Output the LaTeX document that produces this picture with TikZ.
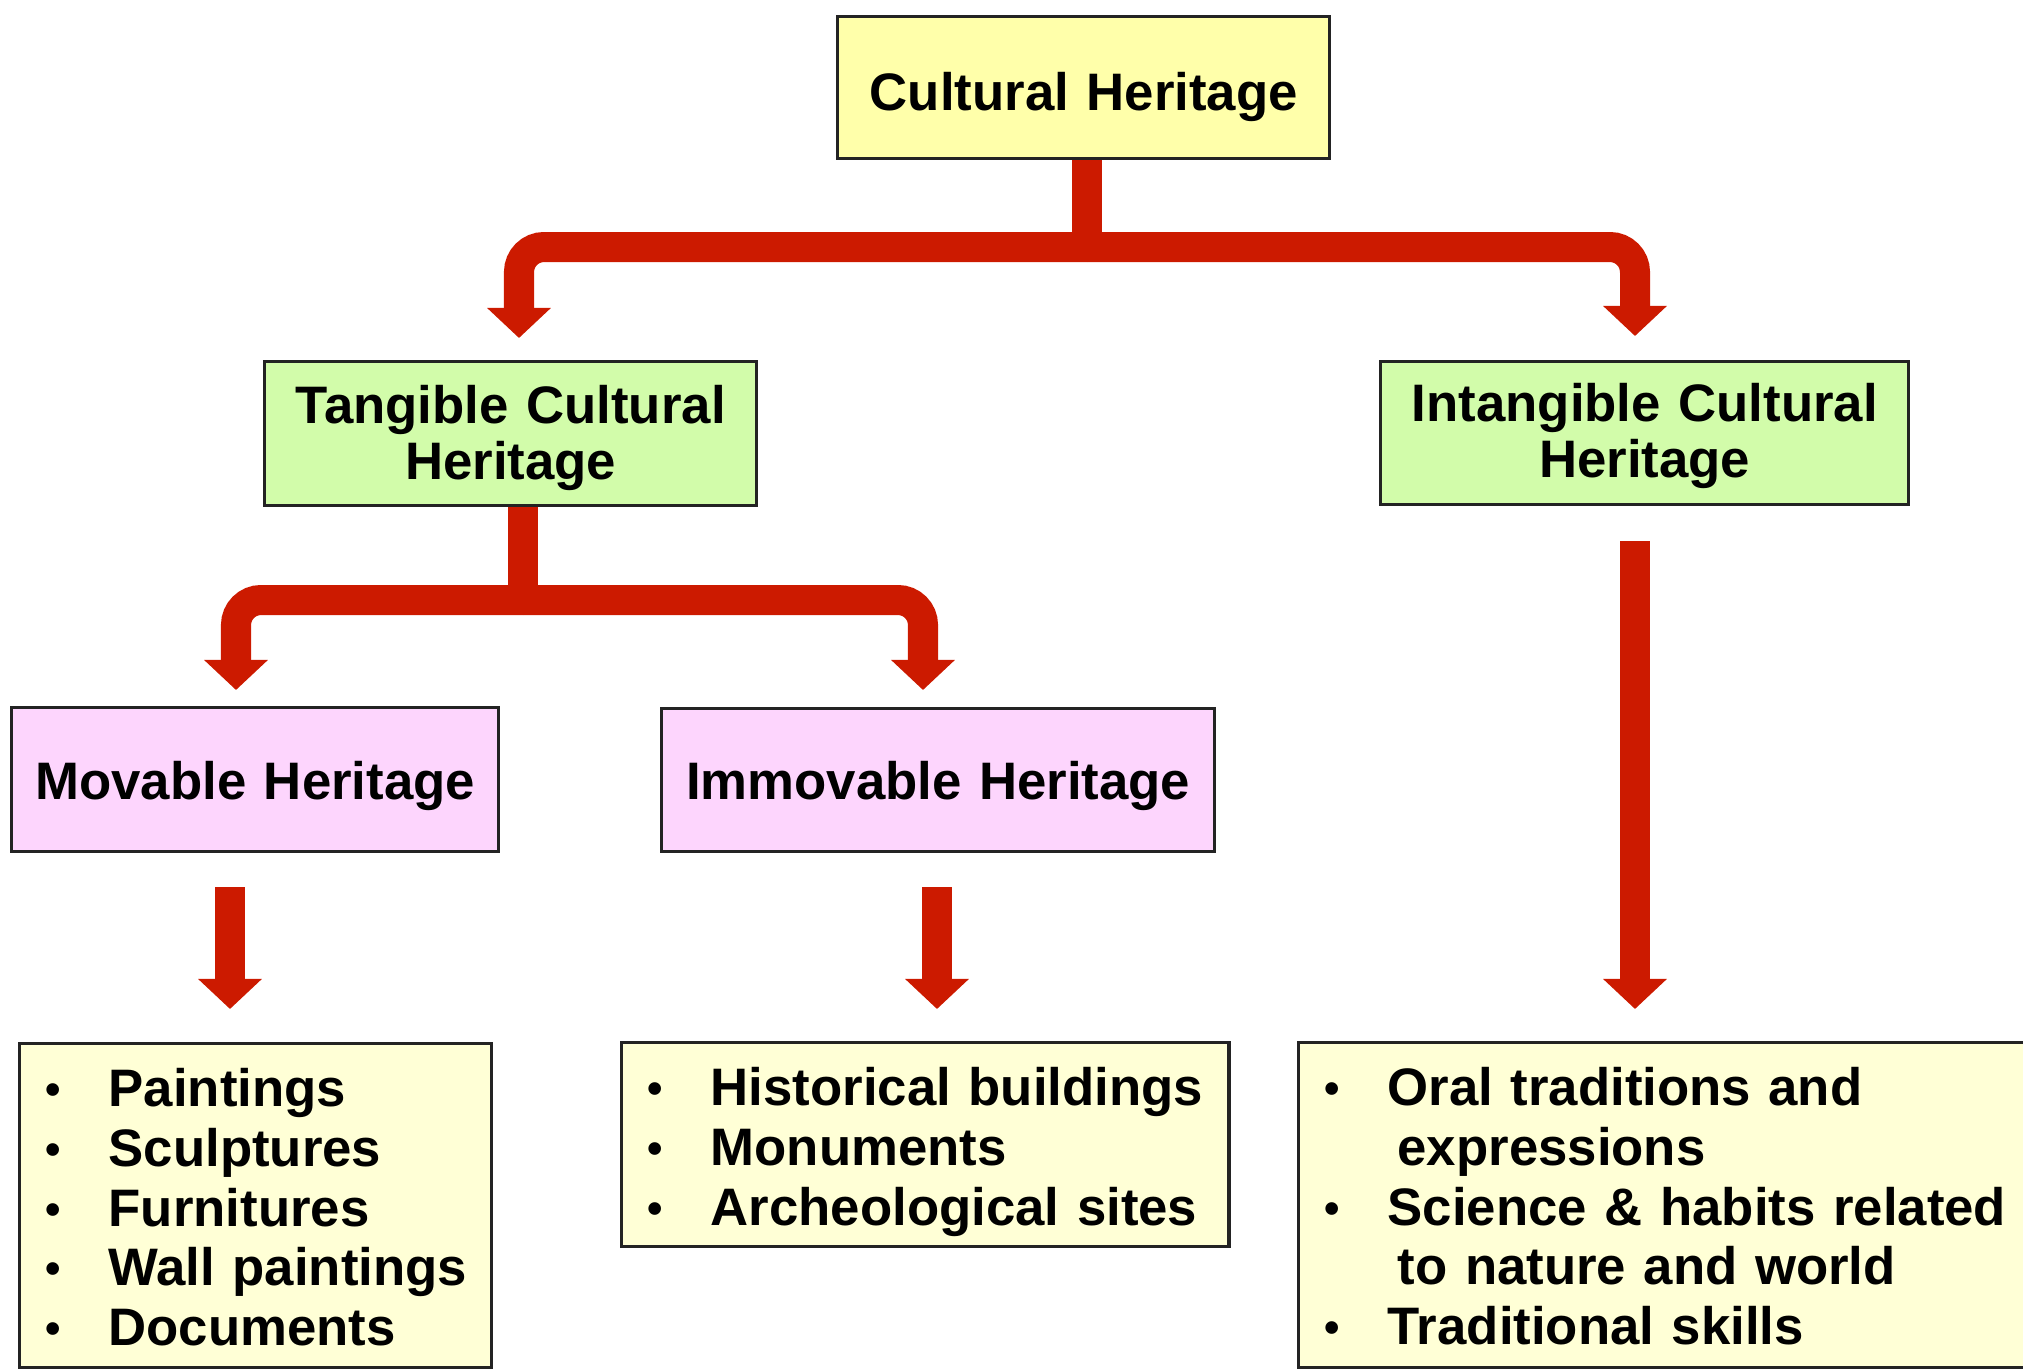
\documentclass[tikz,border=0pt]{standalone}
\usepackage{fontspec}
\setmainfont{Liberation Sans}
\usetikzlibrary{arrows.meta}

\definecolor{boxline}{RGB}{35,35,35}
\definecolor{chfill}{RGB}{255,255,170}
\definecolor{tanfill}{RGB}{210,252,170}
\definecolor{movfill}{RGB}{253,213,253}
\definecolor{listfill}{RGB}{255,255,214}
\definecolor{arrowred}{RGB}{204,26,0}

\tikzset{
  titlebox/.style = {draw=boxline, line width=0.9pt, anchor=north west,
    inner sep=0pt, align=center, font=\bfseries\fontsize{15pt}{16pt}\selectfont},
  itembox/.style = {titlebox, fill=listfill, align=left, inner xsep=2.3mm,
    text height=6.3mm, font=\bfseries\fontsize{15pt}{17pt}\selectfont},
  stem/.style = {draw=arrowred, line width=3mm},
  flow/.style = {stem, -{Triangle[width=6.2mm, length=3mm]}}
}
\newcommand{\itm}{\makebox[6.6mm][l]{\hspace*{0.3mm}\raisebox{0.6pt}{\fontsize{12.5pt}{12.5pt}\selectfont •}}}

\begin{document}
\begin{tikzpicture}[x=0.01cm, y=-0.01cm]
  \useasboundingbox (0,0) rectangle (2023,1369);
  \clip (0,0) rectangle (2023,1369);

  \node[titlebox, fill=chfill, text width=4.92cm, text height=9.4mm, text depth=4.8mm]
    (ch) at (836,15) {Cultural Heritage};

  \node[titlebox, fill=tanfill, text width=4.92cm, text height=6.2mm, text depth=8.2mm]
    (tch) at (263,360) {Tangible Cultural\\Heritage};
  \node[titlebox, fill=tanfill, text width=5.28cm, text height=6.0mm, text depth=8.3mm]
    (ich) at (1379,360) {Intangible Cultural\\Heritage};

  \node[titlebox, fill=movfill, text width=4.87cm, text height=9.2mm, text depth=5.2mm]
    (mh) at (10,706) {Movable Heritage};
  \node[titlebox, fill=movfill, text width=5.53cm, text height=9.1mm, text depth=5.2mm]
    (ih) at (660,707) {Immovable Heritage};

  \node[itembox, text width=4.26cm, text depth=26.1mm] (movl) at (18,1042)
    {\itm Paintings\\ \itm Sculptures\\ \itm Furnitures\\ \itm Wall paintings\\ \itm Documents};
  \node[itembox, text width=5.61cm, text depth=14.1mm] (imml) at (620,1041)
    {\itm Historical buildings\\ \itm Monuments\\ \itm Archeological sites};
  \node[itembox, text width=6.97cm, text depth=26.2mm] (intl) at (1297,1041)
    {\itm Oral traditions and\\ \hspace*{7.6mm}expressions\\
     \itm Science \& habits related\\ \hspace*{7.6mm}to nature and world\\
     \itm Traditional skills};

  \coordinate (jtop) at (1087,247);
  \coordinate (jtan) at (523,600);
  \coordinate (xtl) at (519,0);
  \coordinate (xtr) at (1635,0);
  \coordinate (xml) at (236,0);
  \coordinate (xir) at (923,0);
  \coordinate (xmd) at (230,0);
  \coordinate (xid) at (937,0);

  \draw[stem] (ch.south -| jtop) -- (jtop);
  \draw[flow, rounded corners=2.5mm, shorten >=2.2mm] (jtop) -| (tch.north -| xtl);
  \draw[flow, rounded corners=2.5mm, shorten >=2.4mm] (jtop) -| (ich.north -| xtr);

  \draw[stem] (tch.south -| jtan) -- (jtan);
  \draw[flow, rounded corners=2.5mm, shorten >=1.6mm] (jtan) -| (mh.north -| xml);
  \draw[flow, rounded corners=2.5mm, shorten >=1.7mm] (jtan) -| (ih.north -| xir);

  \draw[flow, shorten <=3.4mm, shorten >=3.3mm] (mh.south -| xmd) -- (movl.north -| xmd);
  \draw[flow, shorten <=3.4mm, shorten >=3.2mm] (ih.south -| xid) -- (imml.north -| xid);
  \draw[flow, shorten <=3.5mm, shorten >=3.2mm] (ich.south -| xtr) -- (intl.north -| xtr);
\end{tikzpicture}
\end{document}
